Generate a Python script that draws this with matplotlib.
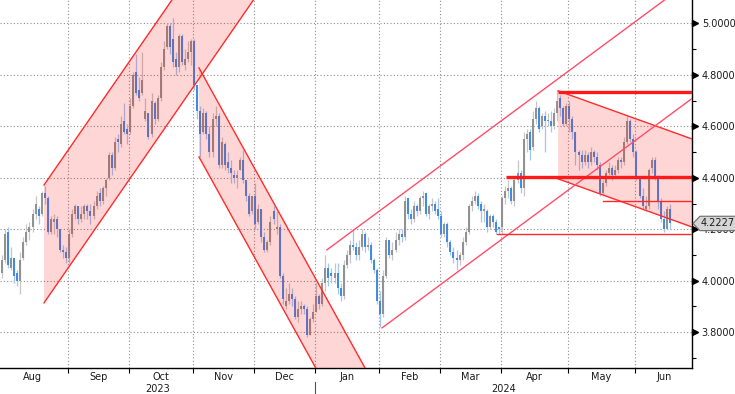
import numpy as np
import pandas as pd
import matplotlib
matplotlib.use("Agg")
import matplotlib.pyplot as plt
from matplotlib.patches import Polygon
from matplotlib.transforms import blended_transform_factory

# ---------------- data ----------------
holidays = ["2023-09-04", "2023-10-09", "2023-11-10", "2023-11-23", "2023-12-25",
            "2024-01-01", "2024-01-15", "2024-02-19", "2024-03-29", "2024-05-27",
            "2024-06-19"]
calendar = pd.bdate_range("2023-08-01", "2024-06-28", freq="C", holidays=holidays)

opens = [
    # Aug
    3.96, 4.03, 4.08, 4.19, 4.05, 4.09, 4.03, 4.00, 4.09, 4.15, 4.19, 4.21, 4.26, 4.28, 4.26, 4.34, 4.32, 4.19, 4.23, 4.24, 4.20, 4.12, 4.11,
    # Sep
    4.09, 4.18, 4.26, 4.29, 4.24, 4.26, 4.29, 4.27, 4.25, 4.29, 4.34, 4.31, 4.36, 4.40, 4.49, 4.44, 4.55, 4.53, 4.62, 4.59,
    # Oct
    4.58, 4.68, 4.81, 4.74, 4.73, 4.63, 4.65, 4.57, 4.69, 4.63, 4.71, 4.83, 4.91, 4.99, 4.94, 4.86, 4.83, 4.95, 4.84, 4.86, 4.89,
    # Nov
    4.93, 4.76, 4.66, 4.58, 4.65, 4.57, 4.50, 4.63, 4.64, 4.45, 4.53, 4.46, 4.44, 4.41, 4.40, 4.43, 4.47, 4.39, 4.33, 4.27,
    # Dec
    4.33, 4.23, 4.28, 4.17, 4.12, 4.15, 4.27, 4.20, 4.21, 4.02, 3.90, 3.92, 3.95, 3.93, 3.86, 3.89, 3.90, 3.89, 3.79, 3.85,
    # Jan
    3.88, 3.94, 3.91, 3.99, 4.05, 4.03, 4.01, 4.03, 3.97, 3.94, 4.06, 4.10, 4.14, 4.13, 4.10, 4.13, 4.18, 4.13, 4.14, 4.08, 4.04,
    # Feb
    3.92, 3.87, 4.02, 4.16, 4.10, 4.12, 4.16, 4.18, 4.17, 4.32, 4.26, 4.24, 4.29, 4.27, 4.32, 4.34, 4.26, 4.29, 4.30, 4.28,
    # Mar
    4.25, 4.18, 4.22, 4.15, 4.11, 4.09, 4.08, 4.10, 4.15, 4.19, 4.29, 4.31, 4.33, 4.30, 4.27, 4.27, 4.21, 4.25, 4.23, 4.21,
    # Apr
    4.21, 4.32, 4.35, 4.36, 4.31, 4.39, 4.42, 4.36, 4.55, 4.58, 4.52, 4.63, 4.67, 4.60, 4.64, 4.62, 4.62, 4.60, 4.65, 4.71, 4.67, 4.61,
    # May
    4.68, 4.63, 4.58, 4.50, 4.49, 4.46, 4.49, 4.46, 4.50, 4.48, 4.45, 4.34, 4.38, 4.42, 4.44, 4.41, 4.43, 4.47, 4.46, 4.54, 4.62, 4.55,
    # Jun
    4.50, 4.40, 4.33, 4.28, 4.29, 4.44, 4.47, 4.40, 4.31, 4.24, 4.20, 4.28,
]
highs = [
    4.06, 4.10, 4.20, 4.21, 4.13, 4.09, 4.04, 4.11, 4.17, 4.22, 4.23, 4.28, 4.33, 4.29, 4.35, 4.37, 4.33, 4.25, 4.26, 4.25, 4.20, 4.14, 4.13,
    4.20, 4.28, 4.30, 4.29, 4.29, 4.30, 4.30, 4.30, 4.31, 4.35, 4.36, 4.37, 4.40, 4.50, 4.50, 4.56, 4.57, 4.64, 4.69, 4.61,
    4.71, 4.81, 4.88, 4.79, 4.89, 4.71, 4.65, 4.73, 4.70, 4.72, 4.85, 4.93, 5.00, 5.00, 5.02, 4.89, 4.96, 4.96, 4.90, 4.93, 4.94,
    4.94, 4.76, 4.68, 4.67, 4.66, 4.60, 4.65, 4.68, 4.65, 4.56, 4.54, 4.50, 4.47, 4.43, 4.43, 4.48, 4.51, 4.39, 4.34, 4.33,
    4.38, 4.30, 4.28, 4.19, 4.16, 4.25, 4.29, 4.27, 4.22, 4.03, 3.97, 3.99, 3.97, 3.94, 3.92, 3.92, 3.91, 3.90, 3.86, 3.91,
    3.99, 3.95, 4.01, 4.10, 4.07, 4.05, 4.07, 4.07, 3.99, 4.08, 4.12, 4.16, 4.20, 4.15, 4.16, 4.20, 4.19, 4.17, 4.15, 4.09, 4.05,
    3.96, 4.04, 4.17, 4.16, 4.15, 4.19, 4.20, 4.20, 4.33, 4.32, 4.28, 4.31, 4.30, 4.33, 4.35, 4.34, 4.30, 4.32, 4.31, 4.32,
    4.27, 4.23, 4.23, 4.16, 4.13, 4.12, 4.11, 4.17, 4.21, 4.30, 4.33, 4.35, 4.34, 4.31, 4.30, 4.28, 4.26, 4.26, 4.24, 4.21,
    4.33, 4.37, 4.39, 4.37, 4.40, 4.47, 4.43, 4.58, 4.59, 4.59, 4.66, 4.70, 4.68, 4.65, 4.66, 4.65, 4.66, 4.67, 4.74, 4.72, 4.68, 4.69,
    4.70, 4.64, 4.58, 4.51, 4.51, 4.51, 4.50, 4.52, 4.51, 4.50, 4.46, 4.39, 4.43, 4.46, 4.45, 4.45, 4.48, 4.48, 4.56, 4.64, 4.63, 4.57,
    4.51, 4.40, 4.36, 4.33, 4.44, 4.48, 4.48, 4.41, 4.32, 4.27, 4.29, 4.30,
]
lows = [
    3.95, 4.01, 4.07, 4.05, 4.04, 3.99, 3.98, 3.95, 4.08, 4.14, 4.16, 4.19, 4.24, 4.22, 4.25, 4.30, 4.18, 4.18, 4.18, 4.17, 4.11, 4.09, 4.07,
    4.07, 4.17, 4.24, 4.22, 4.23, 4.24, 4.24, 4.22, 4.24, 4.28, 4.29, 4.30, 4.33, 4.39, 4.41, 4.43, 4.50, 4.52, 4.57, 4.53,
    4.57, 4.67, 4.72, 4.70, 4.72, 4.62, 4.55, 4.56, 4.61, 4.62, 4.70, 4.82, 4.90, 4.88, 4.83, 4.80, 4.81, 4.84, 4.82, 4.85, 4.84,
    4.74, 4.63, 4.48, 4.57, 4.55, 4.48, 4.48, 4.60, 4.44, 4.44, 4.43, 4.42, 4.38, 4.38, 4.36, 4.43, 4.38, 4.31, 4.25, 4.26,
    4.20, 4.22, 4.15, 4.11, 4.11, 4.14, 4.22, 4.18, 4.01, 3.91, 3.89, 3.91, 3.90, 3.85, 3.84, 3.87, 3.87, 3.78, 3.79, 3.84,
    3.88, 3.89, 3.90, 3.96, 3.98, 3.99, 3.99, 3.95, 3.92, 3.93, 4.05, 4.07, 4.12, 4.08, 4.08, 4.12, 4.11, 4.12, 4.07, 4.03, 3.91,
    3.82, 3.86, 4.01, 4.09, 4.08, 4.11, 4.14, 4.15, 4.16, 4.24, 4.22, 4.23, 4.25, 4.26, 4.29, 4.25, 4.24, 4.27, 4.26, 4.24,
    4.17, 4.17, 4.13, 4.10, 4.07, 4.04, 4.06, 4.08, 4.14, 4.18, 4.27, 4.30, 4.28, 4.23, 4.23, 4.19, 4.20, 4.21, 4.18, 4.18,
    4.18, 4.30, 4.32, 4.30, 4.29, 4.38, 4.34, 4.33, 4.50, 4.47, 4.51, 4.61, 4.58, 4.59, 4.50, 4.60, 4.58, 4.59, 4.62, 4.64, 4.60, 4.60,
    4.58, 4.55, 4.45, 4.43, 4.44, 4.45, 4.44, 4.45, 4.46, 4.43, 4.33, 4.33, 4.37, 4.41, 4.39, 4.40, 4.42, 4.44, 4.45, 4.53, 4.54, 4.48,
    4.39, 4.32, 4.28, 4.27, 4.28, 4.42, 4.39, 4.28, 4.23, 4.19, 4.20, 4.20,
]
closes = [
    4.05, 4.08, 4.18, 4.06, 4.09, 4.02, 4.00, 4.08, 4.15, 4.19, 4.21, 4.26, 4.30, 4.25, 4.34, 4.32, 4.19, 4.24, 4.24, 4.20, 4.12, 4.11, 4.09,
    4.18, 4.26, 4.29, 4.24, 4.26, 4.29, 4.27, 4.25, 4.29, 4.33, 4.31, 4.36, 4.39, 4.49, 4.44, 4.54, 4.54, 4.61, 4.58, 4.57,
    4.68, 4.80, 4.73, 4.71, 4.78, 4.66, 4.56, 4.70, 4.63, 4.71, 4.83, 4.90, 4.99, 4.91, 4.85, 4.83, 4.95, 4.85, 4.86, 4.89, 4.93,
    4.76, 4.66, 4.57, 4.65, 4.57, 4.50, 4.63, 4.64, 4.45, 4.54, 4.45, 4.44, 4.42, 4.40, 4.41, 4.47, 4.39, 4.33, 4.26, 4.33,
    4.22, 4.28, 4.17, 4.12, 4.15, 4.23, 4.24, 4.21, 4.02, 3.93, 3.92, 3.95, 3.93, 3.86, 3.89, 3.90, 3.89, 3.79, 3.85, 3.88,
    3.94, 3.91, 3.99, 4.05, 4.01, 4.02, 4.03, 3.97, 3.94, 4.06, 4.10, 4.14, 4.13, 4.10, 4.13, 4.18, 4.13, 4.14, 4.08, 4.04, 3.92,
    3.87, 4.02, 4.16, 4.10, 4.12, 4.16, 4.18, 4.17, 4.31, 4.26, 4.24, 4.29, 4.27, 4.32, 4.33, 4.26, 4.29, 4.30, 4.27, 4.25,
    4.18, 4.22, 4.15, 4.11, 4.09, 4.08, 4.10, 4.15, 4.19, 4.29, 4.31, 4.33, 4.29, 4.27, 4.28, 4.21, 4.25, 4.23, 4.19, 4.20,
    4.32, 4.35, 4.36, 4.31, 4.39, 4.42, 4.36, 4.55, 4.57, 4.51, 4.63, 4.67, 4.59, 4.64, 4.62, 4.62, 4.60, 4.65, 4.70, 4.67, 4.61, 4.68,
    4.63, 4.58, 4.50, 4.49, 4.46, 4.49, 4.46, 4.50, 4.48, 4.45, 4.34, 4.38, 4.42, 4.44, 4.41, 4.43, 4.47, 4.46, 4.54, 4.62, 4.55, 4.50,
    4.40, 4.33, 4.29, 4.29, 4.43, 4.47, 4.40, 4.31, 4.24, 4.20, 4.28, 4.2227,
]
last_price = 4.2227

y_ticks = [3.8, 4.0, 4.2, 4.4, 4.6, 4.8, 5.0]
y_minor = [3.7, 3.9, 4.1, 4.3, 4.5, 4.7, 4.9]
year_labels = ["2023", "2024"]

# trend channels: (start index, upper value at start, width, slope per day)
chan_up1 = (14.75, 4.372, 0.458, 0.01714)
chan_dn1 = (65.57, 4.827, 0.346, -0.02142)
chan_up2_top = (107.5, 4.120, 0.008772)
chan_up2_bot = (125.6, 3.817, 0.008772)
chan_dn2 = (183.3, 4.738, 0.342, -0.00426)
thick_levels = [(183.3, 4.735), (166.2, 4.403)]
thin_levels = [(198.0, 4.310), (163.3, 4.182)]

# ---------------- figure ----------------
W, H = 735, 394
fig = plt.figure(figsize=(W / 100, H / 100), dpi=100)
ax_right_px = 692
ax_bottom_px = 368
ax = fig.add_axes([0, (H - ax_bottom_px) / H, ax_right_px / W, ax_bottom_px / H])

YMIN, YMAX = 3.661, 5.091
XMIN, XMAX = 0.33, 227.2
ax.set_xlim(XMIN, XMAX)
ax.set_ylim(YMIN, YMAX)

n = len(closes)
x = np.arange(n)
o = np.array(opens); h = np.array(highs); l = np.array(lows); c = np.array(closes)
up = c >= o

grey_wick, grey_body = "#c6c6c6", "#909090"
blue_wick, blue_body = "#a4c7f2", "#4088e2"

ax.vlines(x[up], l[up], h[up], color=grey_wick, lw=0.9, zorder=2)
ax.vlines(x[~up], l[~up], h[~up], color=blue_wick, lw=0.9, zorder=2)
bo = np.minimum(o, c); bc = np.maximum(o, c)
bc = np.maximum(bc, bo + 0.006)
ax.vlines(x[up], bo[up], bc[up], color=grey_body, lw=1.4, zorder=2.1)
ax.vlines(x[~up], bo[~up], bc[~up], color=blue_body, lw=1.4, zorder=2.1)

red = "#ff2b2b"
fill_kw = dict(facecolor="#ff0000", alpha=0.16, edgecolor="none", zorder=3)


def channel(x0, top0, width, slope, x1):
    t1 = top0 + slope * (x1 - x0)
    ax.add_patch(Polygon([(x0, top0), (x1, t1), (x1, t1 - width), (x0, top0 - width)], **fill_kw))
    ax.plot([x0, x1], [top0, t1], color=red, lw=1.0, zorder=4)
    ax.plot([x0, x1], [top0 - width, t1 - width], color=red, lw=1.0, zorder=4)


# up channel Aug-Oct
x0, t0, w, s = chan_up1
channel(x0, t0, w, s, x0 + (YMAX - (t0 - w)) / s + 1)
# down channel Oct-Jan
x0, t0, w, s = chan_dn1
channel(x0, t0, w, s, x0 + (t0 - YMIN) / (-s) + 1)
# down channel Apr-Jun
x0, t0, w, s = chan_dn2
channel(x0, t0, w, s, XMAX + 1)
# large rising channel (lines only)
pink = "#ff4d6a"
x0, v0, s = chan_up2_top
x1 = x0 + (YMAX - v0) / s + 1
ax.plot([x0, x1], [v0, v0 + s * (x1 - x0)], color=pink, lw=1.0, zorder=4)
x0, v0, s = chan_up2_bot
ax.plot([x0, XMAX + 1], [v0, v0 + s * (XMAX + 1 - x0)], color=pink, lw=1.0, zorder=4)

for xs, v in thick_levels:
    ax.plot([xs, XMAX + 1], [v, v], color="#ff1a1a", lw=2.4, zorder=5, solid_capstyle="butt")
for xs, v in thin_levels:
    ax.plot([xs, XMAX + 1], [v, v], color="#ff2b2b", lw=1.0, zorder=5)

# ---------------- axes styling ----------------
months = calendar.to_period("M")
idx = np.arange(len(calendar))
bounds = [i - 0.5 for i in range(1, len(calendar)) if months[i] != months[i - 1]]
centers, mlabels = [], []
for m in months.unique():
    ii = idx[months == m]
    centers.append((ii[0] + ii[-1]) / 2)
    mlabels.append(m.strftime("%b"))

for sp in ["top", "left"]:
    ax.spines[sp].set_visible(False)
ax.spines["bottom"].set_color("black")
ax.spines["right"].set_color("black")
ax.spines["bottom"].set_linewidth(1.0)
ax.spines["right"].set_linewidth(1.0)

txt_color = "#1c1c1c"
ax.set_xticks(bounds)
ax.set_xticklabels([])
ax.set_xticks(centers, minor=True)
ax.set_xticklabels(mlabels, minor=True, fontsize=7, color=txt_color)
ax.tick_params(axis="x", which="major", length=3.5, width=0.8, direction="out", color="black")
ax.tick_params(axis="x", which="minor", length=0, pad=3)

ax.yaxis.tick_right()
ax.set_yticks(y_ticks)
ax.set_yticklabels([f"{v:.4f}" for v in y_ticks], fontsize=7, color=txt_color)
ax.set_yticks(y_minor, minor=True)
ax.tick_params(axis="y", which="major", length=0, pad=7)
ax.tick_params(axis="y", which="minor", length=3, width=0.8, direction="out", color="black")

ax.grid(True, which="major", axis="both", color="#8e8e8e", lw=0.8, linestyle=(0, (1, 2)))
ax.set_axisbelow(True)

tr = blended_transform_factory(ax.transAxes, ax.transData)
ax.plot([1.0045] * len(y_ticks), y_ticks, marker=">", ms=4, color="black", lw=0,
        transform=tr, clip_on=False, zorder=6)

# year labels and separator
jan_b = bounds[4]
trx = blended_transform_factory(ax.transData, ax.transAxes)
ax.text((XMIN + jan_b) / 2, -21 / ax_bottom_px, year_labels[0], transform=trx, ha="center", va="center",
        fontsize=7, color=txt_color, clip_on=False)
ax.text((jan_b + XMAX) / 2, -21 / ax_bottom_px, year_labels[1], transform=trx, ha="center", va="center",
        fontsize=7, color=txt_color, clip_on=False)
ax.plot([jan_b, jan_b], [-14 / ax_bottom_px, -26 / ax_bottom_px], color="#555555", lw=0.8,
        transform=trx, clip_on=False)

# last price tag
hh = 0.028
tag = Polygon([(1.0015, last_price), (1.0115, last_price + hh), (1.07, last_price + hh),
               (1.07, last_price - hh), (1.0115, last_price - hh)], closed=True,
              facecolor="#d5d5d5", edgecolor="#6a6a6a", lw=0.8, transform=tr, clip_on=False, zorder=10)
ax.add_patch(tag)
ax.text(1.0125, last_price, f"{last_price:.4f}", transform=tr, ha="left", va="center",
        fontsize=7, color=txt_color, zorder=11, clip_on=False)

fig.savefig("out.png", dpi=100)
